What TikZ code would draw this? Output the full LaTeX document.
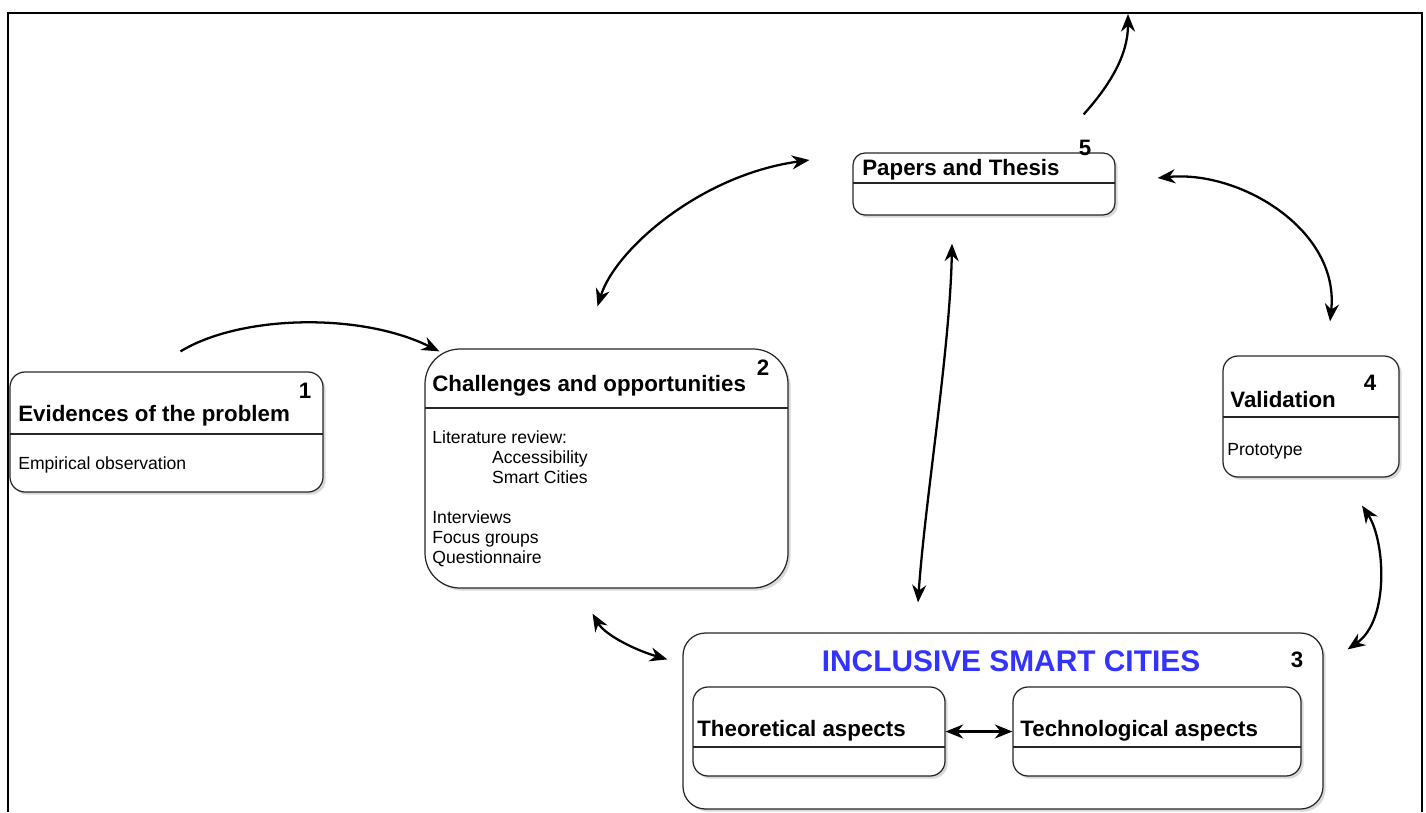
\documentclass[tikz,border=0pt]{standalone}
\usepackage{fontspec}
\setmainfont{Liberation Sans}
\usetikzlibrary{arrows.meta,fit,shadows}
\definecolor{iscblue}{RGB}{51,51,255}

\begin{document}
\begin{tikzpicture}[x=0.02cm, y=-0.02cm,
		box/.style={draw=black!85, line width=0.7pt, fill=white, inner sep=0pt, rounded corners=#1,
			drop shadow={shadow xshift=1.5pt, shadow yshift=-1.5pt, opacity=0.3}},
		box/.default=0.3cm,
		sep/.style={draw=black!85, line width=0.7pt},
		ttl/.style={font=\fontsize{12.7}{15}\selectfont\bfseries, anchor=base west, inner sep=0pt},
		num/.style={font=\fontsize{12.7}{15}\selectfont\bfseries, anchor=base, inner sep=0pt},
		txt/.style={font=\fontsize{10}{11.34}\selectfont, anchor=base west, inner sep=0pt, align=left},
		link/.style={line width=1.3pt, -{Stealth[length=10pt,width=8pt]}},
		both/.style={line width=1.3pt, {Stealth[length=10pt,width=8pt]}-{Stealth[length=10pt,width=8pt]}}]
		%%%%% START %%%%%
		
		\useasboundingbox (0,0) rectangle (1426,812);
		\draw[line width=1.4pt] (8,812) -- (8,13) -- (1422,13) -- (1422,812);
		\coordinate (top) at (1128,14);
		
		% 1
		\node[box, fit={(10,372) (323,492)}] (evid) {};
		\draw[sep] (10,434) -- (323,434);
		\node[ttl] (evidT) at (18,421) {Evidences of the problem};
		\node[num] (evidN) at (305,398) {1};
		\node[txt] (evidB) at (18,469) {Empirical observation};
		
		% 2 (base of a multi-line node = its last line)
		\node[box=0.7cm, fit={(425,349) (788,588)}] (chal) {};
		\draw[sep] (425,408) -- (788,408);
		\node[ttl] (chalT) at (432,391) {Challenges and opportunities};
		\node[num] (chalN) at (763,375) {2};
		\node[txt] (chalB) at (432,563) {Literature review:\\\hspace*{34pt}Accessibility\\\hspace*{34pt}Smart Cities\\[11.34pt]Interviews\\Focus groups\\Questionnaire};
		
		% 5
		\node[box=0.24cm, fit={(853,153) (1115,215)}] (pap) {};
		\draw[sep] (853,183) -- (1115,183);
		\node[ttl] (papT) at (862,175) {Papers and Thesis};
		\node[num] (papN) at (1085,155) {5};
		
		% 4
		\node[box, fit={(1223,356) (1399,477)}] (val) {};
		\draw[sep] (1223,417) -- (1399,417);
		\node[ttl] (valT) at (1230,407) {Validation};
		\node[num] (valN) at (1370,390) {4};
		\node[txt] (valB) at (1227,455) {Prototype};
		
		% 3
		\node[box=0.45cm, fit={(683,633) (1323,809)}] (isc) {};
		\node[font=\fontsize{17}{20}\selectfont\bfseries, text=iscblue, anchor=base, inner sep=0pt] (iscT) at (1011,671) {INCLUSIVE SMART CITIES};
		\node[num] (iscN) at (1297,667) {3};
		\node[box, fit={(693,687) (945,776)}] (theo) {};
		\draw[sep] (693,747) -- (945,747);
		\node[ttl] (theoT) at (697,736) {Theoretical aspects};
		\node[box, fit={(1013,687) (1301,776)}] (tech) {};
		\draw[sep] (1013,747) -- (1301,747);
		\node[ttl] (techT) at (1020,736) {Technological aspects};
		
		% arrows
		\draw[link] ([shift={(14,-20)}]evid.north) .. controls (240,315) and (360,312) .. ([shift={(15,3)}]chal.north west);
		\draw[both] ([shift={(-9,-42)}]chal.north) .. controls (615,250) and (700,175) .. ([shift={(-43,-24)}]pap.west);
		\draw[both] ([shift={(-32,28)}]pap.south) .. controls (950,350) and (925,500) .. ([shift={(-85,-30)}]isc.north);
		\draw[both] ([shift={(42,-6)}]pap.east) .. controls (1240,170) and (1340,230) .. ([shift={(19,-34)}]val.north);
		\draw[both] ([shift={(51,28)}]val.south) .. controls (1385,540) and (1390,620) .. ([shift={(24,17)}]isc.north east);
		\draw[both] ([shift={(-14,25)}]chal.south) .. controls (605,635) and (635,650) .. ([shift={(-15,27)}]isc.north west);
		\draw[link] ([shift={(-32,-38)}]pap.north east) .. controls (1110,85) and (1128,55) .. (top);
		\draw[both] (theo.east) -- (tech.west);
		
		%%%%% END %%%%%
	\end{tikzpicture}
\end{document}
